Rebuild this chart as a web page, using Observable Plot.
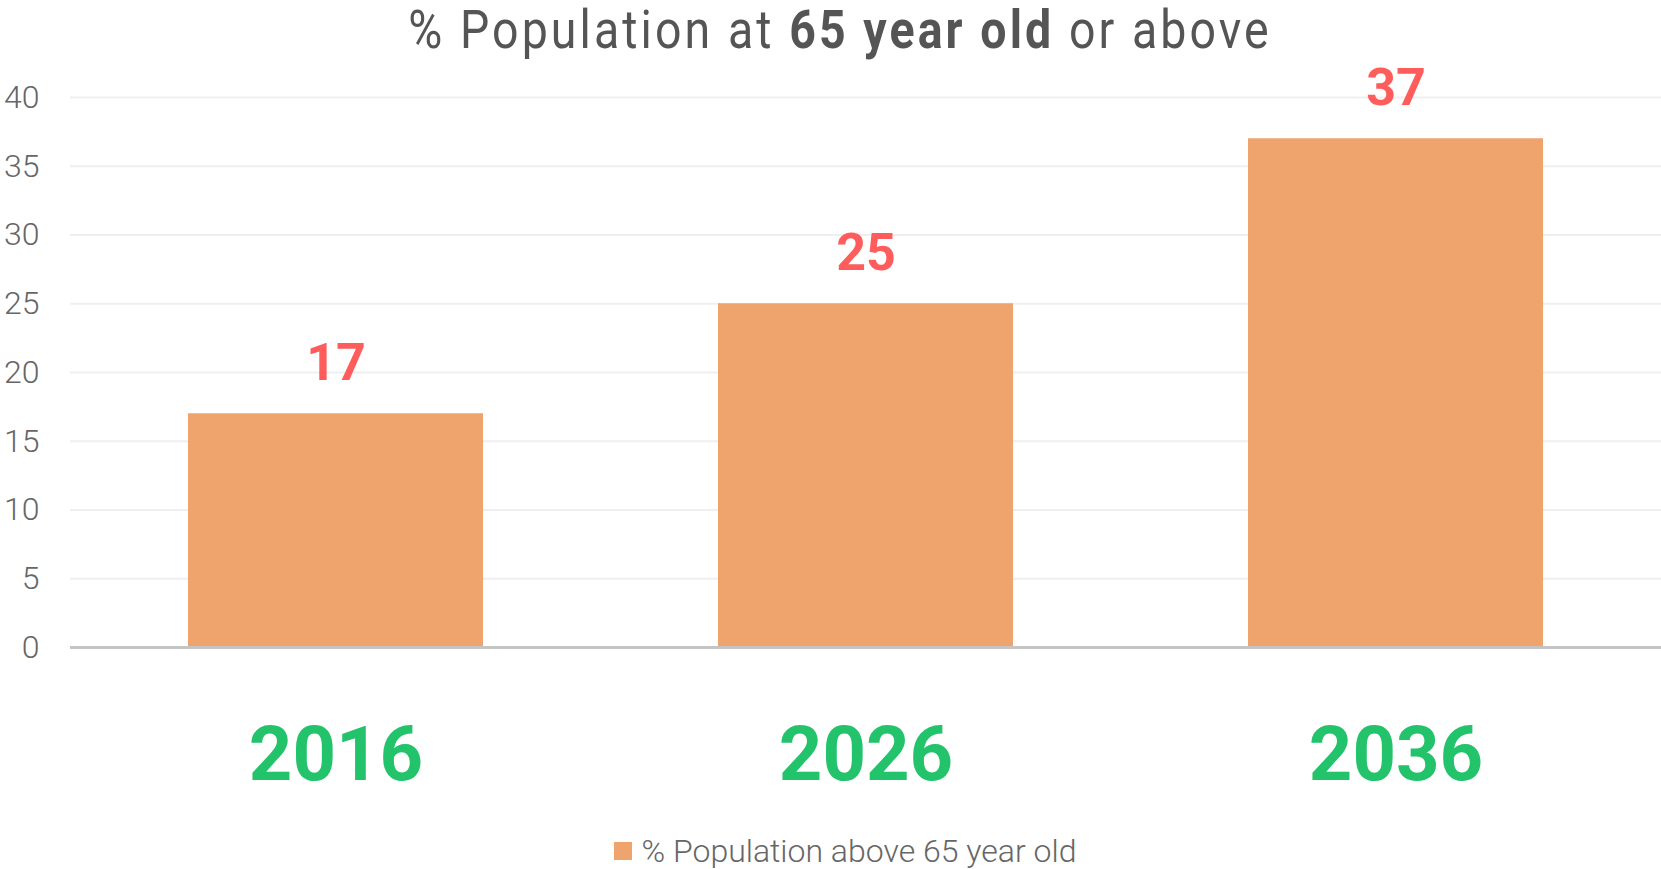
<!DOCTYPE html>
<html><head><meta charset="utf-8">
<script src="https://cdn.jsdelivr.net/npm/d3@7"></script>
<script src="https://cdn.jsdelivr.net/npm/@observablehq/plot@0.6"></script>
<style>
body{margin:0;background:#fff;font-family:Roboto,sans-serif;width:1661px;overflow:hidden}
#title{height:60px;line-height:60px;font-size:54px;color:#555;text-align:center;white-space:nowrap;padding-left:20px;box-sizing:border-box;width:1661px}
#title span{display:inline-block;transform:scaleX(0.86);transform-origin:center;letter-spacing:3.6px}
#title b{font-weight:700}
#legend{height:49px;display:flex;justify-content:center;align-items:center;padding-left:30px;padding-top:12px;box-sizing:border-box;width:1661px;font-size:32px;font-weight:300;color:#666}
#legend .sw{width:18px;height:18px;background:#F0A46D;margin-right:9px;display:inline-block}
svg{display:block}
</style>
</head><body>
<div id="title"><span>% Population at <b>65 year old</b> or above</span></div>
<div id="chart"></div>
<div id="legend"><span class="sw"></span><span id="legtext"></span></div>
<script>
const years = ["2016", "2026", "2036"];
const values = [17, 25, 37];
const yTicks = [0, 5, 10, 15, 20, 25, 30, 35, 40];
const seriesName = "% Population above 65 year old";

const data = years.map((year, i) => ({year, value: values[i]}));
document.getElementById("legtext").textContent = seriesName;

const chart = Plot.plot({
  width: 1661, height: 760,
  marginTop: 37, marginBottom: 173, marginLeft: 70, marginRight: 0,
  style: {fontFamily: "Roboto, sans-serif", background: "white", overflow: "visible"},
  x: {domain: years, paddingInner: 0.443, paddingOuter: 0.2215, axis: null, label: null},
  y: {domain: [0, 40], axis: null, label: null},
  marks: [
    Plot.gridY(yTicks, {stroke: "#efefef", strokeOpacity: 1, strokeWidth: 2}),
    Plot.axisY(yTicks, {tickSize: 0, tickPadding: 31, fontSize: 32, fontWeight: 300, fill: "#666", tickFormat: d => String(d), label: null}),
    Plot.barY(data, {x: "year", y: "value", fill: "#F0A46D"}),
    Plot.ruleY([0], {stroke: "#c4c4c4", strokeWidth: 3}),
    Plot.text(data, {x: "year", y: "value", text: d => String(d.value), lineAnchor: "bottom", dy: -34, fontSize: 52, fontWeight: 700, fill: "#FF5C5C"}),
    Plot.axisX({tickSize: 0, tickPadding: 79, fontSize: 76, fontWeight: 700, fill: "#22C36B", label: null})
  ]
});
document.getElementById("chart").appendChild(chart);
</script>
</body></html>
